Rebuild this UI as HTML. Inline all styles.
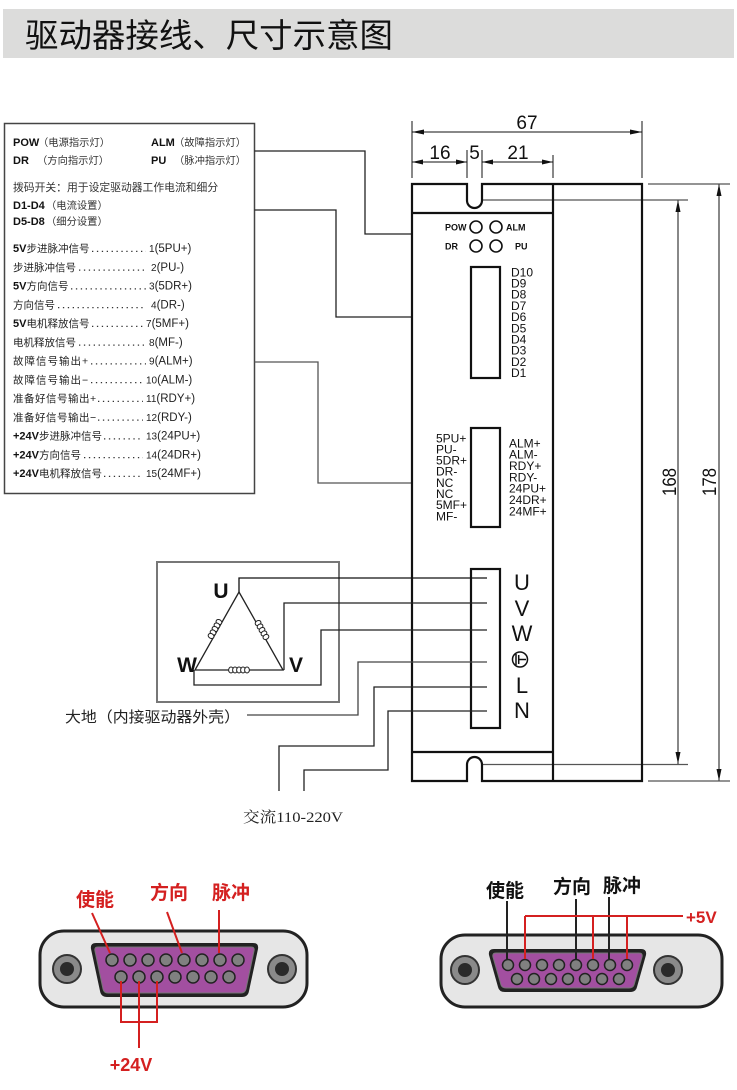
<!DOCTYPE html>
<html><head><meta charset="utf-8">
<style>
html,body{margin:0;padding:0;background:#fff;}
svg{display:block;}
</style></head><body>
<svg width="737" height="1090" viewBox="0 0 737 1090" xmlns="http://www.w3.org/2000/svg" font-family="'Liberation Sans','Noto Sans CJK SC',sans-serif">
<rect width="737" height="1090" fill="#fff"/>
<!-- header -->
<rect x="3" y="9" width="731" height="49" fill="#dcdcdb"/>
<text x="25" y="47" font-size="33" textLength="368" lengthAdjust="spacingAndGlyphs" fill="#111">驱动器接线、尺寸示意图</text>

<!-- left text box -->
<rect x="4.5" y="123.5" width="250" height="370" fill="none" stroke="#444" stroke-width="1.5"/>
<g fill="#111">
<text x="13" y="146" font-size="11" font-weight="bold">POW</text>
<text x="38" y="146" font-size="10.3" fill="#333">（电源指示灯）</text>
<text x="151" y="146" font-size="11" font-weight="bold">ALM</text>
<text x="174" y="146" font-size="10.3" fill="#333">（故障指示灯）</text>
<text x="13" y="164" font-size="11" font-weight="bold">DR</text>
<text x="37" y="164" font-size="10.3" fill="#333">（方向指示灯）</text>
<text x="151" y="164" font-size="11" font-weight="bold">PU</text>
<text x="174" y="164" font-size="10.3" fill="#333">（脉冲指示灯）</text>
<text x="13" y="191" font-size="10.8" fill="#333">拨码开关：用于设定驱动器工作电流和细分</text>
<text x="13" y="209" font-size="11" font-weight="bold">D1-D4</text>
<text x="46" y="209" font-size="10.3" fill="#333">（电流设置）</text>
<text x="13" y="225" font-size="11" font-weight="bold">D5-D8</text>
<text x="46" y="225" font-size="10.3" fill="#333">（细分设置）</text>
</g>
<g fill="#222">
<text x="13" y="252"><tspan font-size="11" font-weight="bold" fill="#111">5V</tspan><tspan font-size="10.5">步进脉冲信号</tspan></text>
<text x="13" y="270.75" font-size="10.5">步进脉冲信号</text>
<text x="13" y="289.5"><tspan font-size="11" font-weight="bold" fill="#111">5V</tspan><tspan font-size="10.5">方向信号</tspan></text>
<text x="13" y="308.25" font-size="10.5">方向信号</text>
<text x="13" y="327"><tspan font-size="11" font-weight="bold" fill="#111">5V</tspan><tspan font-size="10.5">电机释放信号</tspan></text>
<text x="13" y="345.75" font-size="10.5">电机释放信号</text>
<text x="13" y="364.5" font-size="10.5" letter-spacing="1">故障信号输出+</text>
<text x="13" y="383.25" font-size="10.5" letter-spacing="1">故障信号输出−</text>
<text x="13" y="402" font-size="10.5" letter-spacing="0.5">准备好信号输出+</text>
<text x="13" y="420.75" font-size="10.5" letter-spacing="0.5">准备好信号输出−</text>
<text x="13" y="439.5"><tspan font-size="11" font-weight="bold" fill="#111">+24V</tspan><tspan font-size="10.5">步进脉冲信号</tspan></text>
<text x="13" y="458.25"><tspan font-size="11" font-weight="bold" fill="#111">+24V</tspan><tspan font-size="10.5">方向信号</tspan></text>
<text x="13" y="477"><tspan font-size="11" font-weight="bold" fill="#111">+24V</tspan><tspan font-size="10.5">电机释放信号</tspan></text>
</g>
<g stroke="#333" stroke-width="1.3" stroke-dasharray="1.3 3.6">
<line x1="92" y1="251.4" x2="146" y2="251.4"/>
<line x1="79" y1="270.1" x2="146" y2="270.1"/>
<line x1="71" y1="288.9" x2="146" y2="288.9"/>
<line x1="58" y1="307.6" x2="146" y2="307.6"/>
<line x1="92" y1="326.4" x2="143" y2="326.4"/>
<line x1="79" y1="345.1" x2="146" y2="345.1"/>
<line x1="91" y1="363.9" x2="146" y2="363.9"/>
<line x1="91" y1="382.6" x2="143" y2="382.6"/>
<line x1="98" y1="401.4" x2="143" y2="401.4"/>
<line x1="98" y1="420.1" x2="143" y2="420.1"/>
<line x1="104" y1="438.9" x2="143" y2="438.9"/>
<line x1="84" y1="457.6" x2="143" y2="457.6"/>
<line x1="104" y1="476.4" x2="143" y2="476.4"/>
</g>
<g fill="#222">
<text x="149" y="252"><tspan font-size="10">1</tspan><tspan font-size="11.5">(5PU+)</tspan></text>
<text x="151" y="270.75"><tspan font-size="10">2</tspan><tspan font-size="11.5">(PU-)</tspan></text>
<text x="149" y="289.5"><tspan font-size="10">3</tspan><tspan font-size="11.5">(5DR+)</tspan></text>
<text x="151" y="308.25"><tspan font-size="10">4</tspan><tspan font-size="11.5">(DR-)</tspan></text>
<text x="146" y="327"><tspan font-size="10">7</tspan><tspan font-size="11.5">(5MF+)</tspan></text>
<text x="149" y="345.75"><tspan font-size="10">8</tspan><tspan font-size="11.5">(MF-)</tspan></text>
<text x="149" y="364.5"><tspan font-size="10">9</tspan><tspan font-size="11.5">(ALM+)</tspan></text>
<text x="146" y="383.25"><tspan font-size="10">10</tspan><tspan font-size="11.5">(ALM-)</tspan></text>
<text x="146" y="402"><tspan font-size="10">11</tspan><tspan font-size="11.5">(RDY+)</tspan></text>
<text x="146" y="420.75"><tspan font-size="10">12</tspan><tspan font-size="11.5">(RDY-)</tspan></text>
<text x="146" y="439.5"><tspan font-size="10">13</tspan><tspan font-size="11.5">(24PU+)</tspan></text>
<text x="146" y="458.25"><tspan font-size="10">14</tspan><tspan font-size="11.5">(24DR+)</tspan></text>
<text x="146" y="477"><tspan font-size="10">15</tspan><tspan font-size="11.5">(24MF+)</tspan></text>
</g>

<!-- connecting lines from box to drive -->
<g fill="none" stroke-width="1.3">
<polyline points="254.5,151 365,151 365,234 412,234" stroke="#222"/>
<polyline points="254.5,210 336,210 336,317 412,317" stroke="#222"/>
<polyline points="254.5,362 318,362 318,483 412,483" stroke="#555"/>
</g>

<!-- dimensions -->
<g stroke="#111" stroke-width="1" fill="none">
<line x1="412" y1="132" x2="642" y2="132"/>
<line x1="412" y1="121" x2="412" y2="178"/>
<line x1="642" y1="121" x2="642" y2="178"/>
<line x1="412" y1="162" x2="467" y2="162"/>
<line x1="482" y1="162" x2="553" y2="162"/>
<line x1="467" y1="150" x2="467" y2="178"/>
<line x1="482" y1="150" x2="482" y2="178"/>
<line x1="553" y1="155" x2="553" y2="178"/>
<line x1="678" y1="200" x2="678" y2="764"/>
<line x1="719" y1="184" x2="719" y2="781"/>
</g>
<g stroke="#555" stroke-width="1.2">
<line x1="482" y1="200" x2="688" y2="200"/>
<line x1="482" y1="764.5" x2="688" y2="764.5"/>
<line x1="648" y1="184" x2="730" y2="184"/>
<line x1="648" y1="781" x2="730" y2="781"/>
</g>
<g fill="#111">
<polygon points="412,132 424,129.5 424,134.5"/>
<polygon points="642,132 630,129.5 630,134.5"/>
<polygon points="412,162 423,159.5 423,164.5"/>
<polygon points="467,162 456,159.5 456,164.5"/>
<polygon points="482,162 493,159.5 493,164.5"/>
<polygon points="553,162 542,159.5 542,164.5"/>
<polygon points="678,200 675.5,212 680.5,212"/>
<polygon points="678,764 675.5,752 680.5,752"/>
<polygon points="719,184 716.5,196 721.5,196"/>
<polygon points="719,781 716.5,769 721.5,769"/>
</g>
<g fill="#111" font-size="19" text-anchor="middle">
<text x="527" y="129">67</text>
<text x="440" y="159">16</text>
<text x="474.5" y="159">5</text>
<text x="518" y="159">21</text>
<text transform="translate(676,482) rotate(-90)" textLength="28" lengthAdjust="spacingAndGlyphs">168</text>
<text transform="translate(716,482) rotate(-90)" textLength="28" lengthAdjust="spacingAndGlyphs">178</text>
</g>

<!-- drive body -->
<g fill="none" stroke="#111" stroke-width="2.2">
<path d="M412,184 H467 V200.5 A7.5,7.5 0 0 0 482,200.5 V184 H642 V781 H482 V764.5 A7.5,7.5 0 0 0 467,764.5 V781 H412 Z"/>
<line x1="553" y1="184" x2="553" y2="781"/>
<line x1="412" y1="213" x2="553" y2="213"/>
<line x1="412" y1="752" x2="553" y2="752"/>
<rect x="471" y="267" width="29" height="111"/>
<rect x="471" y="428" width="29" height="99"/>
<rect x="471" y="569" width="29" height="159"/>
</g>
<g fill="none" stroke="#111" stroke-width="1.6">
<circle cx="476" cy="227" r="6"/>
<circle cx="496" cy="227" r="6"/>
<circle cx="476" cy="246" r="6"/>
<circle cx="496" cy="246" r="6"/>
</g>
<g fill="#111" font-size="9" font-weight="bold">
<text x="445" y="230.5">POW</text>
<text x="506" y="230.5">ALM</text>
<text x="445" y="249.5">DR</text>
<text x="515" y="249.5">PU</text>
</g>
<g fill="#111" font-size="12">
<text x="511" y="276.3">D10</text>
<text x="511" y="287.5">D9</text>
<text x="511" y="298.7">D8</text>
<text x="511" y="309.9">D7</text>
<text x="511" y="321.1">D6</text>
<text x="511" y="332.3">D5</text>
<text x="511" y="343.5">D4</text>
<text x="511" y="354.7">D3</text>
<text x="511" y="365.9">D2</text>
<text x="511" y="377.1">D1</text>
<text x="436" y="442.3">5PU+</text>
<text x="436" y="453.4">PU-</text>
<text x="436" y="464.6">5DR+</text>
<text x="436" y="475.7">DR-</text>
<text x="436" y="486.9">NC</text>
<text x="436" y="498">NC</text>
<text x="436" y="509.2">5MF+</text>
<text x="436" y="520.3">MF-</text>
<text x="509" y="447.3">ALM+</text>
<text x="509" y="458.6">ALM-</text>
<text x="509" y="470">RDY+</text>
<text x="509" y="481.3">RDY-</text>
<text x="509" y="492.6">24PU+</text>
<text x="509" y="504">24DR+</text>
<text x="509" y="515.3">24MF+</text>
</g>
<g fill="#111" font-size="22" text-anchor="middle">
<text x="522" y="590">U</text>
<text x="522" y="616">V</text>
<text x="522" y="641">W</text>
<text x="522" y="693">L</text>
<text x="522" y="718">N</text>
</g>
<g fill="none" stroke="#111" stroke-width="1.5">
<circle cx="520" cy="659.5" r="7.5"/>
<line x1="516" y1="654" x2="516" y2="665"/>
<line x1="518.7" y1="655" x2="518.7" y2="664"/>
<line x1="518.7" y1="659.5" x2="526" y2="659.5"/>
</g>

<!-- motor -->
<rect x="157" y="562" width="182" height="140" fill="none" stroke="#777" stroke-width="2"/>
<g fill="none" stroke="#222" stroke-width="1.3">
<polygon points="239,592 195,670 283,670"/>
<polyline points="239,592 239,578 487,578" stroke="#111"/>
<polyline points="487,603 284,603 284,670"/>
<polyline points="487,630 321,630 321,685 194,685 194,670"/>
<polyline points="487,662 358,662 358,715 247,715" stroke="#444"/>
<polyline points="487,687 374,687 374,746 279,746 279,791"/>
<polyline points="487,711 388,711 388,770 304,770 304,791"/>
</g>
<g fill="#fff" stroke="#222" stroke-width="1">
<g transform="translate(215,629) rotate(119.4)">
<ellipse cx="-8" cy="0" rx="2.4" ry="3"/><ellipse cx="-4" cy="0" rx="2.4" ry="3"/><ellipse cx="0" cy="0" rx="2.4" ry="3"/><ellipse cx="4" cy="0" rx="2.4" ry="3"/><ellipse cx="8" cy="0" rx="2.4" ry="3"/>
</g>
<g transform="translate(262,630) rotate(60.6)">
<ellipse cx="-8" cy="0" rx="2.4" ry="3"/><ellipse cx="-4" cy="0" rx="2.4" ry="3"/><ellipse cx="0" cy="0" rx="2.4" ry="3"/><ellipse cx="4" cy="0" rx="2.4" ry="3"/><ellipse cx="8" cy="0" rx="2.4" ry="3"/>
</g>
<g transform="translate(239,670)">
<ellipse cx="-8" cy="0" rx="2.4" ry="3"/><ellipse cx="-4" cy="0" rx="2.4" ry="3"/><ellipse cx="0" cy="0" rx="2.4" ry="3"/><ellipse cx="4" cy="0" rx="2.4" ry="3"/><ellipse cx="8" cy="0" rx="2.4" ry="3"/>
</g>
</g>
<g fill="#111" font-size="21" font-weight="bold" text-anchor="middle">
<text x="221" y="598">U</text>
<text x="187" y="672">W</text>
<text x="296" y="672">V</text>
</g>
<text x="65" y="722" font-size="15" fill="#222" textLength="175" lengthAdjust="spacingAndGlyphs">大地（内接驱动器外壳）</text>
<text x="243" y="822" font-size="15" fill="#222" font-family="'Liberation Serif','Noto Serif CJK SC',serif" textLength="100" lengthAdjust="spacingAndGlyphs">交流110-220V</text>

<!-- left DB15 -->
<rect x="40" y="931" width="267" height="76" rx="24" fill="#e6e6e6" stroke="#222" stroke-width="3"/>
<circle cx="67" cy="969" r="14" fill="#8a8a8a" stroke="#333" stroke-width="2"/>
<circle cx="67" cy="969" r="7" fill="#2a2a2a"/>
<circle cx="282" cy="969" r="14" fill="#8a8a8a" stroke="#333" stroke-width="2"/>
<circle cx="282" cy="969" r="7" fill="#2a2a2a"/>
<path d="M96,943 H253 Q259,943 258,949 L249,991 Q248,997 242,997 H107 Q101,997 100,991 L91,949 Q90,943 96,943 Z" fill="#222"/>
<path d="M98,947 H251 Q255,947 254,951 L246,989 Q245,993 241,993 H108 Q104,993 103,989 L95,951 Q94,947 98,947 Z" fill="#a24fa0" stroke="#777" stroke-width="1"/>
<g fill="#808080" stroke="#222" stroke-width="1.5">
<circle cx="112" cy="960" r="6"/><circle cx="130" cy="960" r="6"/><circle cx="148" cy="960" r="6"/><circle cx="166" cy="960" r="6"/><circle cx="184" cy="960" r="6"/><circle cx="202" cy="960" r="6"/><circle cx="220" cy="960" r="6"/><circle cx="238" cy="960" r="6"/>
<circle cx="121" cy="977" r="6"/><circle cx="139" cy="977" r="6"/><circle cx="157" cy="977" r="6"/><circle cx="175" cy="977" r="6"/><circle cx="193" cy="977" r="6"/><circle cx="211" cy="977" r="6"/><circle cx="229" cy="977" r="6"/>
</g>
<g stroke="#d42020" stroke-width="2" fill="none">
<line x1="92" y1="913" x2="110" y2="953"/>
<line x1="167" y1="912" x2="182" y2="953"/>
<line x1="219" y1="910" x2="219" y2="953"/>
<polyline points="121,981 121,1022 157,1022 157,981"/>
<line x1="139" y1="981" x2="139" y2="1048"/>
</g>
<g fill="#d42020" font-weight="bold" text-anchor="middle">
<text x="95" y="906" font-size="19">使能</text>
<text x="169" y="899" font-size="19">方向</text>
<text x="231" y="899" font-size="19">脉冲</text>
<text x="131" y="1071" font-size="18">+24V</text>
</g>

<!-- right DB15 -->
<rect x="441" y="935" width="281" height="72" rx="24" fill="#e6e6e6" stroke="#222" stroke-width="3"/>
<circle cx="465" cy="970" r="14" fill="#8a8a8a" stroke="#333" stroke-width="2"/>
<circle cx="465" cy="970" r="7" fill="#2a2a2a"/>
<circle cx="668" cy="970" r="14" fill="#8a8a8a" stroke="#333" stroke-width="2"/>
<circle cx="668" cy="970" r="7" fill="#2a2a2a"/>
<path d="M494,949 H641 Q647,949 646,955 L637,987 Q636,992 630,992 H505 Q499,992 498,987 L489,955 Q488,949 494,949 Z" fill="#222"/>
<path d="M496,953 H639 Q643,953 642,957 L634,985 Q633,988 629,988 H506 Q502,988 501,985 L493,957 Q492,953 496,953 Z" fill="#a24fa0" stroke="#777" stroke-width="1"/>
<g fill="#808080" stroke="#222" stroke-width="1.5">
<circle cx="508" cy="965" r="5.5"/><circle cx="525" cy="965" r="5.5"/><circle cx="542" cy="965" r="5.5"/><circle cx="559" cy="965" r="5.5"/><circle cx="576" cy="965" r="5.5"/><circle cx="593" cy="965" r="5.5"/><circle cx="610" cy="965" r="5.5"/><circle cx="627" cy="965" r="5.5"/>
<circle cx="517" cy="979" r="5.5"/><circle cx="534" cy="979" r="5.5"/><circle cx="551" cy="979" r="5.5"/><circle cx="568" cy="979" r="5.5"/><circle cx="585" cy="979" r="5.5"/><circle cx="602" cy="979" r="5.5"/><circle cx="619" cy="979" r="5.5"/>
</g>
<g stroke="#222" stroke-width="2">
<line x1="507" y1="901" x2="507" y2="959"/>
<line x1="576" y1="899" x2="576" y2="959"/>
<line x1="609" y1="897" x2="609" y2="959"/>
</g>
<g stroke="#d42020" stroke-width="2" fill="none">
<line x1="525" y1="916" x2="683" y2="916"/>
<line x1="525" y1="916" x2="525" y2="959"/>
<line x1="593" y1="916" x2="593" y2="959"/>
<line x1="627" y1="916" x2="627" y2="959"/>
</g>
<g fill="#111" font-weight="bold" text-anchor="middle" font-size="19">
<text x="505" y="897">使能</text>
<text x="572" y="893">方向</text>
<text x="622" y="892">脉冲</text>
</g>
<text x="686" y="923" fill="#d42020" font-weight="bold" font-size="17">+5V</text>
</svg>
</body></html>
